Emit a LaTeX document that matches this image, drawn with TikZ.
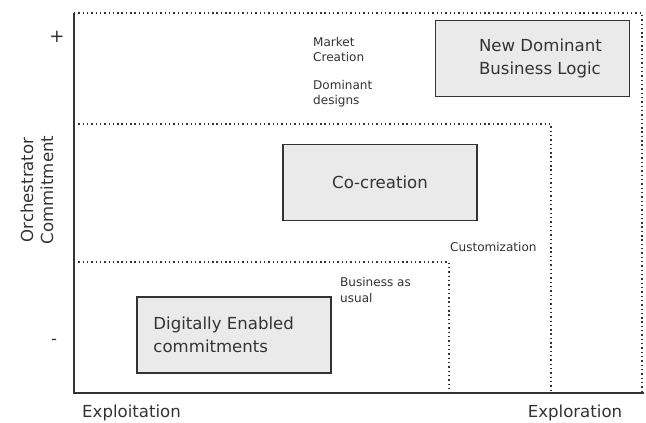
\documentclass[tikz,border=0pt]{standalone}
\usepackage{fontspec}
\setmainfont{DejaVu Sans}
\usetikzlibrary{positioning}
\definecolor{inkgray}{HTML}{333333}
\definecolor{boxgray}{HTML}{EAEAEA}

\begin{document}
\begin{tikzpicture}
  [
  x=0.035cm, y=0.035cm,
  every node/.style={text=inkgray},
  quad/.style={draw=inkgray, line width=1.4pt, dash pattern=on 1.4pt off 2.9pt},
  axis/.style={draw=inkgray, line width=1.3pt},
  stage/.style={draw=inkgray, line width=1.3pt, fill=boxgray,
    minimum width=6.8cm, minimum height=2.66cm},
  big/.style={font=\fontsize{16.5}{23}\selectfont, align=left, inner sep=0pt},
  small/.style={font=\fontsize{12}{15}\selectfont, align=left, inner sep=0pt,
    anchor=north west},
  ]
  \useasboundingbox (-74,-29) rectangle (572,393);
  % Regions
  \draw[quad] (0,380) -- (568,380) -- (568,0);
  \draw[quad] (0,269) -- (477,269) -- (477,0);
  \draw[quad] (0,131) -- (375,131) -- (375,0);
  % Axes
  \draw[axis] (0,380) -- (0,0) -- (570,0);

  % Stages
  \node[stage] (logic) at (458.5,334.5) {};
  \node[big, right=44pt of logic.west] (logictext) {New Dominant\\Business Logic};
  \node[stage, big] (cocreation) at (306,210.5) {Co-creation};
  \node[stage] (digital) at (160,58) {};
  \node[big, right=17pt of digital.west] (digitaltext) {Digitally Enabled\\commitments};

  % Labels
  \node[small] (market) at (239,356) {Market\\Creation};
  \node[small] (designs) at (239,313) {Dominant\\designs};
  \node[small] (custom) at (376,151) {Customization};
  \node[small, font=\fontsize{12}{16}\selectfont] (usual) at (266,116) {Business as\\usual};

  % Axis labels
  \node[big, font=\fontsize{18}{20}\selectfont] (plus) at (-17,356) {+};
  \node[big] (minus) at (-20,51) {-};
  \node[big, align=center, rotate=90, font=\fontsize{16.5}{20}\selectfont]
    (commit) at (-37,203) {Orchestrator\\Commitment};
  \node[big, anchor=base] (exploit) at (57.5,-24) {Exploitation};
  \node[big, anchor=base] (explore) at (501,-24) {Exploration};
\end{tikzpicture}
\end{document}
